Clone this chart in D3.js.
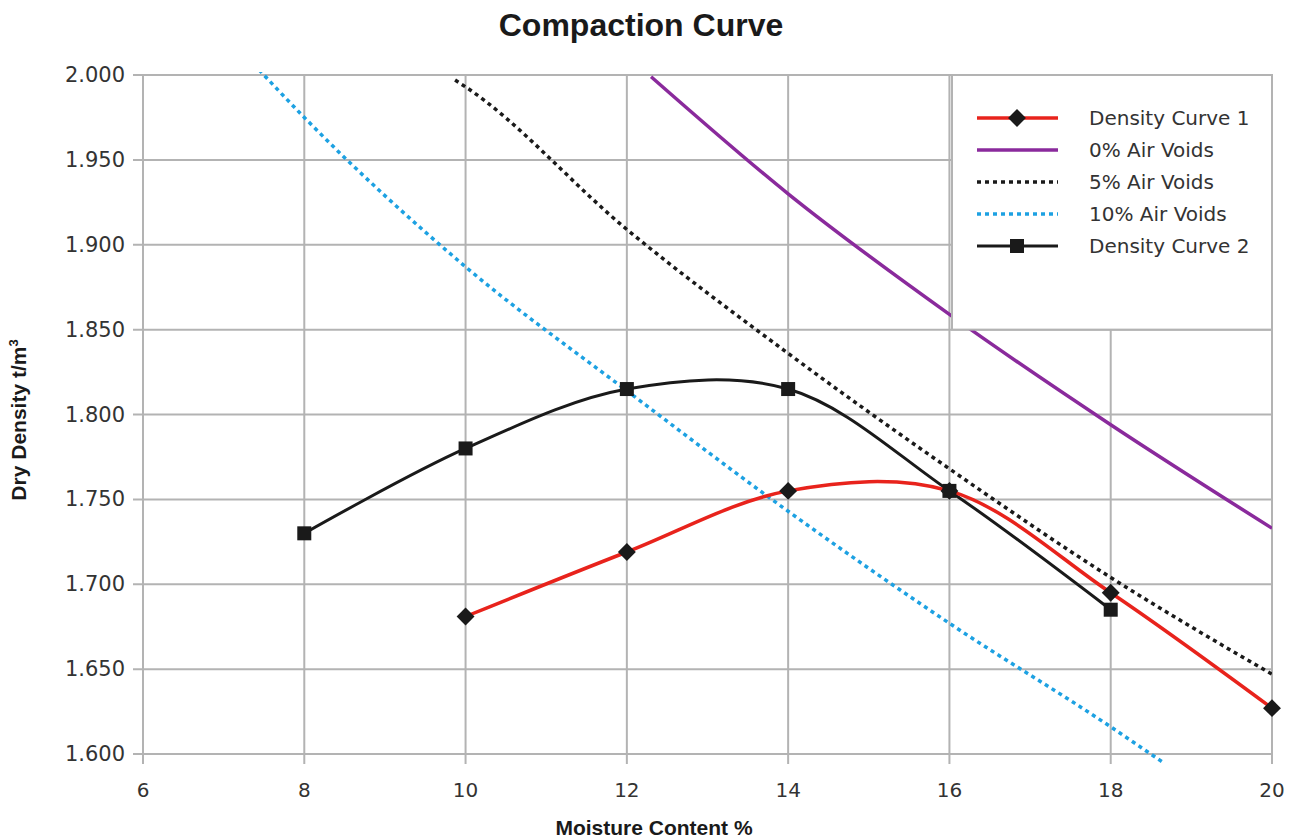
<!DOCTYPE html>
<html><head><meta charset="utf-8">
<script src="https://cdn.jsdelivr.net/npm/d3@7"></script>
<style>body{margin:0;background:#fff}svg{display:block}</style>
</head><body>
<svg id="c" width="1301" height="839"></svg>
<script>
const xTicks = [6, 8, 10, 12, 14, 16, 18, 20];
const yTicks = [1.600, 1.650, 1.700, 1.750, 1.800, 1.850, 1.900, 1.950, 2.000];

const curve1X = [10, 12, 14, 16, 18, 20];
const curve1Y = [1.681, 1.719, 1.755, 1.755, 1.695, 1.627];
const curve2X = [8, 10, 12, 14, 16, 18];
const curve2Y = [1.730, 1.780, 1.815, 1.815, 1.755, 1.685];
const av0X = [12.3, 14, 16, 18, 20];
const av0Y = [1.999, 1.930, 1.859, 1.794, 1.733];
const av5X = [9.87, 10, 12, 14, 16, 18, 20];
const av5Y = [1.997, 1.993, 1.909, 1.836, 1.768, 1.704, 1.647];
const av10X = [7.44, 8, 10, 12, 14, 16, 18, 18.65];
const av10Y = [2.003, 1.975, 1.887, 1.814, 1.743, 1.677, 1.616, 1.595];

const legendNames = ["Density Curve 1", "0% Air Voids", "5% Air Voids", "10% Air Voids", "Density Curve 2"];

const svg = d3.select("#c");
const L = 143, R = 1272, T = 75, B = 754;
const x = d3.scaleLinear().domain([6, 20]).range([L, R]);
const y = d3.scaleLinear().domain([1.6, 2.0]).range([B, T]);
const grid = "#b3b3b3";
const tickFont = "'DejaVu Sans', sans-serif";
const boldFont = "'Liberation Sans', Arial, sans-serif";

svg.append("defs").append("clipPath").attr("id", "clip")
  .append("rect").attr("x", L).attr("y", T - 3).attr("width", R - L).attr("height", B - T + 12);

// grid
const g = svg.append("g");
g.selectAll(".hg").data(yTicks).join("line")
  .attr("x1", L - 10).attr("x2", R).attr("y1", d => y(d)).attr("y2", d => y(d))
  .attr("stroke", grid).attr("stroke-width", 2);
g.selectAll(".vg").data(xTicks).join("line")
  .attr("x1", d => x(d)).attr("x2", d => x(d)).attr("y1", T).attr("y2", B + 10)
  .attr("stroke", grid).attr("stroke-width", 2);

// tick labels
svg.selectAll(".xl").data(xTicks).join("text")
  .attr("x", d => x(d)).attr("y", 797).attr("text-anchor", "middle")
  .attr("font-family", tickFont).attr("font-size", 20).attr("fill", "#333")
  .text(d => d);
svg.selectAll(".yl").data(yTicks).join("text")
  .attr("x", 125).attr("y", d => y(d) + 7).attr("text-anchor", "end")
  .attr("font-family", tickFont).attr("font-size", 21).attr("fill", "#333")
  .text(d => d3.format(".3f")(d));

// title & axis titles
svg.append("text").attr("x", 641).attr("y", 36).attr("text-anchor", "middle")
  .attr("font-family", boldFont).attr("font-weight", "bold").attr("font-size", 32).attr("fill", "#1a1a1a")
  .text("Compaction Curve");
svg.append("text").attr("x", 654).attr("y", 835).attr("text-anchor", "middle")
  .attr("font-family", boldFont).attr("font-weight", "bold").attr("font-size", 21).attr("fill", "#1a1a1a")
  .text("Moisture Content %");
const yt = svg.append("text").attr("transform", "translate(26,420) rotate(-90)").attr("text-anchor", "middle")
  .attr("font-family", boldFont).attr("font-weight", "bold").attr("font-size", 21).attr("fill", "#1a1a1a");
yt.append("tspan").text("Dry Density t/m");
yt.append("tspan").attr("dy", -8).attr("font-size", 13).text("3");

// series
const plot = svg.append("g").attr("clip-path", "url(#clip)");
const zip = (xs, ys) => xs.map((v, i) => [v, ys[i]]);
const smooth = d3.line().x(d => x(d[0])).y(d => y(d[1])).curve(d3.curveCatmullRom.alpha(0.5));
const smoothN = d3.line().x(d => x(d[0])).y(d => y(d[1])).curve(d3.curveMonotoneX);

plot.append("path").attr("d", smoothN(zip(av10X, av10Y))).attr("fill", "none")
  .attr("stroke", "#1da1e2").attr("stroke-width", 3.5).attr("stroke-dasharray", "4,4");
plot.append("path").attr("d", smoothN(zip(av5X, av5Y))).attr("fill", "none")
  .attr("stroke", "#1a1a1a").attr("stroke-width", 3.5).attr("stroke-dasharray", "4,4");
plot.append("path").attr("d", smoothN(zip(av0X, av0Y))).attr("fill", "none")
  .attr("stroke", "#8a2a9c").attr("stroke-width", 3.5);
plot.append("path").attr("d", smooth(zip(curve2X, curve2Y))).attr("fill", "none")
  .attr("stroke", "#1a1a1a").attr("stroke-width", 3);
plot.append("path").attr("d", smooth(zip(curve1X, curve1Y))).attr("fill", "none")
  .attr("stroke", "#e8231c").attr("stroke-width", 3.5);

const diamond = d3.symbol().type(d3.symbolSquare).size(160);
svg.selectAll(".m2").data(zip(curve2X, curve2Y)).join("rect")
  .attr("x", d => x(d[0]) - 7).attr("y", d => y(d[1]) - 7).attr("width", 14).attr("height", 14)
  .attr("fill", "#1a1a1a");
svg.selectAll(".m1").data(zip(curve1X, curve1Y)).join("path")
  .attr("d", diamond).attr("transform", d => `translate(${x(d[0])},${y(d[1])}) rotate(45)`)
  .attr("fill", "#1a1a1a");

// legend
const lg = svg.append("g");
lg.append("rect").attr("x", 952).attr("y", T).attr("width", R - 952).attr("height", y(1.85) - T)
  .attr("fill", "#fff").attr("stroke", grid).attr("stroke-width", 2);
const styles = [
  {c: "#e8231c", d: null, w: 3.5, m: "diamond"},
  {c: "#8a2a9c", d: null, w: 3.5, m: null},
  {c: "#1a1a1a", d: "4,4", w: 3.5, m: null},
  {c: "#1da1e2", d: "4,4", w: 3.5, m: null},
  {c: "#1a1a1a", d: null, w: 3, m: "square"}
];
legendNames.forEach((name, i) => {
  const yy = 118 + i * 32;
  const s = styles[i];
  lg.append("line").attr("x1", 977).attr("x2", 1058).attr("y1", yy).attr("y2", yy)
    .attr("stroke", s.c).attr("stroke-width", s.w).attr("stroke-dasharray", s.d);
  if (s.m === "diamond") lg.append("path").attr("d", diamond).attr("transform", `translate(1017,${yy}) rotate(45)`).attr("fill", "#1a1a1a");
  if (s.m === "square") lg.append("rect").attr("x", 1010).attr("y", yy - 7).attr("width", 14).attr("height", 14).attr("fill", "#1a1a1a");
  lg.append("text").attr("x", 1089).attr("y", yy + 7).attr("font-family", tickFont).attr("font-size", 20)
    .attr("fill", "#333").text(name);
});
</script>
</body></html>
